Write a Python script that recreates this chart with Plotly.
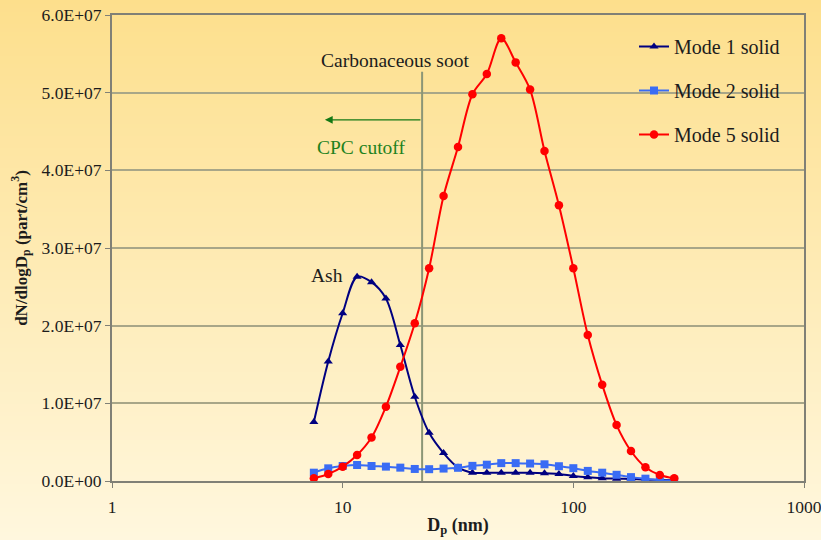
import plotly.graph_objects as go

# Particle mobility diameters (nm), 16 channels per decade
diameters_nm = [7.50, 8.66, 10.00, 11.55, 13.34, 15.40, 17.78, 20.54, 23.71, 27.38,
                31.62, 36.52, 42.17, 48.70, 56.23, 64.94, 74.99, 86.60, 100.0, 115.5,
                133.4, 154.0, 177.8, 205.4, 237.1, 273.8]

# dN/dlogDp (part/cm3)
mode1_solid = [7.6e6, 1.54e7, 2.16e7, 2.63e7, 2.56e7, 2.35e7, 1.75e7, 1.085e7, 6.2e6, 3.6e6,
               1.75e6, 1.07e6, 1.05e6, 1.05e6, 1.05e6, 1.05e6, 1.0e6, 0.9e6, 0.65e6, 0.47e6,
               0.35e6, 0.3e6, 0.25e6, 0.17e6, 0.15e6, 0.1e6]
mode2_solid = [1.07e6, 1.63e6, 1.93e6, 2.06e6, 1.93e6, 1.85e6, 1.72e6, 1.55e6, 1.52e6, 1.6e6,
               1.7e6, 1.95e6, 2.1e6, 2.3e6, 2.3e6, 2.25e6, 2.15e6, 1.9e6, 1.65e6, 1.3e6,
               1.07e6, 0.8e6, 0.5e6, 0.3e6, 0.1e6, 0.05e6]
mode5_solid = [0.34e6, 0.9e6, 1.85e6, 3.35e6, 5.6e6, 9.57e6, 1.47e7, 2.03e7, 2.74e7, 3.67e7,
               4.30e7, 4.98e7, 5.24e7, 5.70e7, 5.39e7, 5.04e7, 4.25e7, 3.55e7, 2.74e7, 1.88e7,
               1.24e7, 0.72e7, 0.386e7, 0.176e7, 0.077e7, 0.035e7]

series_names = ["Mode 1 solid", "Mode 2 solid", "Mode 5 solid"]

y_tick_values = [0, 1e7, 2e7, 3e7, 4e7, 5e7, 6e7]
y_tick_labels = ["0.0E+00", "1.0E+07", "2.0E+07", "3.0E+07", "4.0E+07", "5.0E+07", "6.0E+07"]
x_tick_values = [1, 10, 100, 1000]
x_tick_labels = ["1", "10", "100", "1000"]

cpc_cutoff_nm = 22.1
cutoff_line_top = 5.27e7

SERIF = "Liberation Serif"
TEXT = "#1c1c1c"
AXIS = "rgb(128,128,118)"

fig = go.Figure()

# CPC cutoff marker line
fig.add_trace(go.Scatter(
    x=[cpc_cutoff_nm, cpc_cutoff_nm], y=[0, cutoff_line_top],
    mode="lines", line=dict(color="rgb(140,150,118)", width=2),
    showlegend=False, hoverinfo="skip"))

styles = [
    dict(color="#000080", symbol="triangle-up", size=8),
    dict(color="#3A6CF4", symbol="square", size=8),
    dict(color="#FF0000", symbol="circle", size=8.5),
]
for i, (name, vals, st) in enumerate(zip(series_names,
                                        [mode1_solid, mode2_solid, mode5_solid], styles)):
    fig.add_trace(go.Scatter(
        x=diameters_nm, y=vals, name=name, mode="lines+markers",
        line=dict(color=st["color"], width=2, shape="spline", smoothing=0.9),
        marker=dict(color=st["color"], symbol=st["symbol"], size=st["size"]),
        legendgroup=f"g{i}"))

# Vertical background gradient, warm yellow at top to pale cream at bottom
W, H = 821, 540
ml, mr, mt, mb = 112, 17, 15, 59
pw, ph = W - ml - mr, H - mt - mb
top_rgb = (253, 223, 140)
bot_rgb = (255, 247, 222)
n_bands = 135
shapes = []
for k in range(n_bands):
    f0 = k / n_bands
    f1 = (k + 1) / n_bands
    t = (k + 0.5) / n_bands
    c = tuple(round(top_rgb[j] + (bot_rgb[j] - top_rgb[j]) * t) for j in range(3))
    y_top_px = f0 * H
    y_bot_px = f1 * H + 0.6
    shapes.append(dict(
        type="rect", xref="paper", yref="paper", layer="below",
        x0=-ml / pw, x1=1 + mr / pw,
        y0=(H - mb - y_bot_px) / ph, y1=(H - mb - y_top_px) / ph,
        fillcolor=f"rgb{c}", line=dict(width=0)))

fig.update_layout(
    width=W, height=H,
    margin=dict(l=ml, r=mr, t=mt, b=mb, autoexpand=False),
    paper_bgcolor="rgba(0,0,0,0)", plot_bgcolor="rgba(0,0,0,0)",
    shapes=shapes,
    font=dict(family=SERIF, color=TEXT),
    showlegend=True,
    legend=dict(x=(634 - ml) / pw, y=1 - (27 - mt) / ph, xanchor="left", yanchor="top",
                bgcolor="rgba(0,0,0,0)", font=dict(size=20, family=SERIF, color=TEXT),
                tracegroupgap=15, traceorder="grouped"),
    xaxis=dict(
        type="log", range=[0, 3], automargin=False,
        tickvals=x_tick_values, ticktext=x_tick_labels,
        ticks="outside", ticklen=5, tickcolor=AXIS,
        tickfont=dict(size=17.5, family=SERIF, color=TEXT), ticklabelstandoff=4,
        ticklabeloverflow="allow",
        showgrid=False, zeroline=False,
        showline=True, linecolor=AXIS, linewidth=2, mirror=True,
        title=dict(text="<b>D<sub>p</sub> (nm)</b>", font=dict(size=18, family=SERIF, color=TEXT),
                   standoff=2)),
    yaxis=dict(
        range=[0, 6e7], automargin=False,
        tickvals=y_tick_values, ticktext=y_tick_labels,
        ticks="outside", ticklen=5, tickcolor=AXIS,
        tickfont=dict(size=17.5, family=SERIF, color=TEXT),
        ticklabeloverflow="allow",
        showgrid=True, gridcolor="rgb(168,166,136)", gridwidth=2,
        zeroline=False,
        showline=True, linecolor=AXIS, linewidth=2, mirror=True,
        title=dict(text="<b>dN/dlogD<sub>p</sub> (part/cm<sup>3</sup>)</b>",
                   font=dict(size=17, family=SERIF, color=TEXT), standoff=10)),
    annotations=[
        dict(x=1.2267, y=5.42e7, xref="x", yref="y", text="Carbonaceous soot",
             showarrow=False, font=dict(size=19.5, family=SERIF, color=TEXT)),
        dict(x=1.079, y=4.29e7, xref="x", yref="y", text="CPC cutoff",
             showarrow=False, font=dict(size=19.5, family=SERIF, color="rgb(30,130,30)")),
        dict(x=0.932, y=2.65e7, xref="x", yref="y", text="Ash",
             showarrow=False, font=dict(size=19.5, family=SERIF, color=TEXT)),
        dict(x=0.923, y=4.65e7, xref="x", yref="y", ax=1.3437, ay=4.65e7,
             axref="x", ayref="y", text="", showarrow=True, arrowhead=2,
             arrowsize=1.2, arrowwidth=1.3, arrowcolor="rgb(20,120,20)"),
    ],
)

fig.write_html("out.html")
